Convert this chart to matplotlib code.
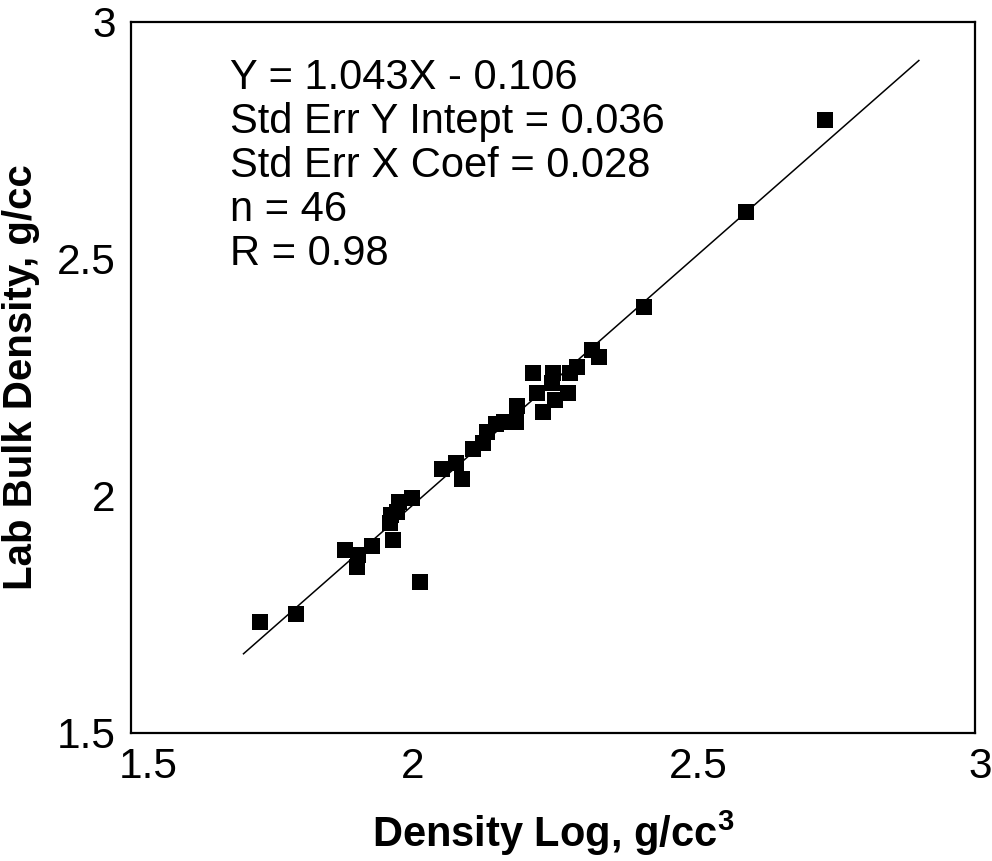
import numpy as np
from matplotlib import pyplot as plt
from matplotlib.transforms import ScaledTranslation

plt.rcParams['font.family'] = ['Liberation Sans', 'DejaVu Sans']
plt.rcParams['mathtext.fontset'] = 'custom'
plt.rcParams['mathtext.rm'] = 'Liberation Sans'
plt.rcParams['mathtext.bf'] = 'Liberation Sans:bold'

# data
density_log = [1.729, 1.793, 1.880, 1.903, 1.902, 1.928, 1.966, 1.960, 1.962,
               1.973, 1.976, 1.999, 2.014, 2.053, 2.078, 2.088, 2.108, 2.126,
               2.133, 2.149, 2.163, 2.184, 2.186, 2.214, 2.222, 2.232, 2.250,
               2.254, 2.248, 2.277, 2.280, 2.293, 2.319, 2.332, 2.412, 2.593,
               2.733]
lab_density = [1.734, 1.751, 1.886, 1.876, 1.850, 1.895, 1.907, 1.943, 1.960,
               1.966, 1.987, 1.996, 1.819, 2.057, 2.070, 2.036, 2.099, 2.112,
               2.135, 2.152, 2.156, 2.156, 2.190, 2.259, 2.217, 2.177, 2.259,
               2.203, 2.238, 2.217, 2.259, 2.272, 2.308, 2.293, 2.399, 2.599,
               2.793]

slope = 1.043
intercept = -0.106
fit_x = np.array([1.70, 2.90])

stats = ["Y = 1.043X - 0.106",
         "Std Err Y Intept = 0.036",
         "Std Err X Coef = 0.028",
         "n = 46",
         "R = 0.98"]

ticks = [1.5, 2, 2.5, 3]
tick_labels = ["1.5", "2", "2.5", "3"]

fig = plt.figure(figsize=(9.92, 8.61), dpi=100)
ax = fig.add_axes([0.132, 0.1487, 0.851, 0.8258])

ax.plot(fit_x, slope*fit_x + intercept, color='black', lw=1.1)
ax.scatter(density_log, lab_density, marker='s', s=118, color='black',
           linewidths=0, zorder=3)

ax.set_xlim(1.5, 3)
ax.set_ylim(1.5, 3)
ax.set_xticks(ticks)
ax.set_xticklabels(tick_labels)
ax.set_yticks(ticks)
ax.set_yticklabels(tick_labels)
ax.tick_params(length=0, labelsize=30.5)
ax.tick_params(axis='x', pad=10)
ax.tick_params(axis='y', pad=11)
for s in ax.spines.values():
    s.set_linewidth(1.6)

# nudge some tick labels like the original
xl = ax.get_xticklabels()
xl[0].set_transform(xl[0].get_transform() + ScaledTranslation(0.17, 0, fig.dpi_scale_trans))
xl[2].set_transform(xl[2].get_transform() + ScaledTranslation(0.05, 0, fig.dpi_scale_trans))
xl[-1].set_transform(xl[-1].get_transform() + ScaledTranslation(0.05, 0, fig.dpi_scale_trans))

ax.set_xlabel("Density Log, g/cc$^{\\mathbf{3}}$", fontsize=30,
              fontweight='bold')
ax.xaxis.set_label_coords(0.5, -0.106)
ax.set_ylabel("Lab Bulk Density, g/cc", fontsize=29, fontweight='bold',
              labelpad=12)

ax.text(0.117, 0.95, "\n".join(stats), transform=ax.transAxes, fontsize=30,
        va='top', ha='left', linespacing=1.13)

fig.savefig("out.png", dpi=100)
